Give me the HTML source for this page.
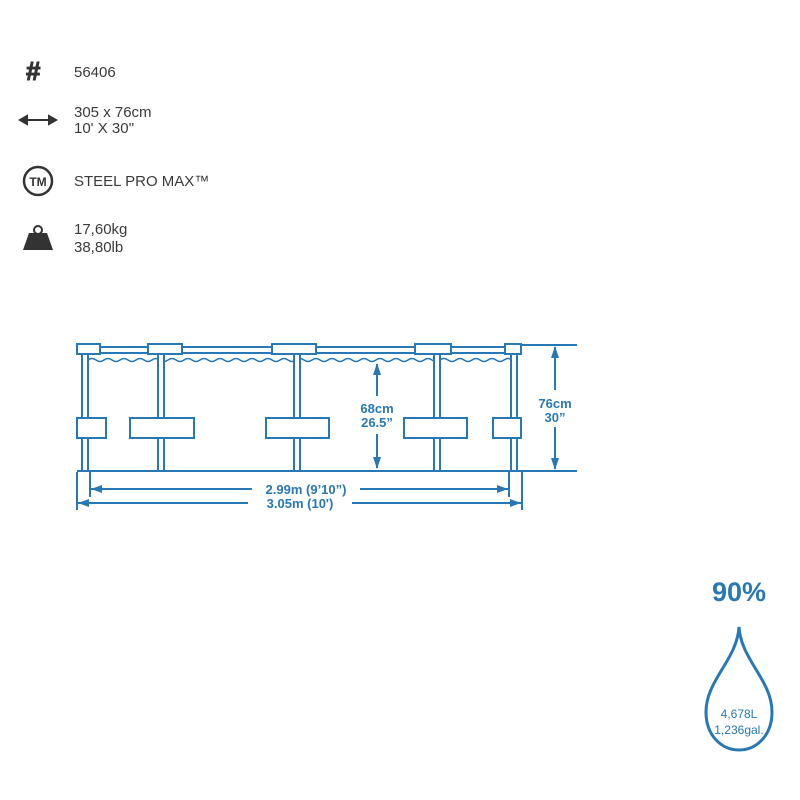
<!DOCTYPE html>
<html><head><meta charset="utf-8"><style>
html,body{margin:0;padding:0;background:#fff;}
svg{display:block;}
.t{font-family:"Liberation Sans",sans-serif;fill:#3a3a3a;font-size:15px;}
.b{font-family:"Liberation Sans",sans-serif;fill:#2778b4;font-weight:bold;font-size:13px;text-anchor:middle;}
</style></head><body>
<svg width="800" height="800" viewBox="0 0 800 800" xmlns="http://www.w3.org/2000/svg">
<text x="26" y="80" style="font-family:'Liberation Sans',sans-serif;font-weight:bold;font-size:26px;fill:#333" stroke="#333" stroke-width="1">#</text>
<text class="t" x="74" y="77">56406</text>
<g stroke="#333" stroke-width="2" fill="#333">
<line x1="22" y1="120" x2="54" y2="120"/>
<polygon points="20,120 27,116 27,124"/>
<polygon points="56,120 49,116 49,124"/>
</g>
<text class="t" x="74" y="117">305 x 76cm</text>
<text class="t" x="74" y="133">10' X 30''</text>
<circle cx="38" cy="181" r="14" fill="none" stroke="#333" stroke-width="2.5"/>
<text x="38" y="186" style="font-family:'Liberation Sans',sans-serif;font-weight:bold;font-size:12px;fill:#333;text-anchor:middle">TM</text>
<text class="t" x="74" y="186">STEEL PRO MAX™</text>
<circle cx="38" cy="230" r="4" fill="none" stroke="#333" stroke-width="2"/>
<polygon points="29,233 47,233 53,250 23,250" fill="#333"/>
<text class="t" x="74" y="234">17,60kg</text>
<text class="t" x="74" y="252">38,80lb</text>

<g stroke="#2778b4" stroke-width="2" fill="none">
<line x1="77" y1="347" x2="521" y2="347"/>
<line x1="77" y1="353" x2="521" y2="353"/>
<line x1="521" y1="345" x2="577" y2="345"/>
<rect x="77" y="344" width="23" height="10" fill="#fff"/>
<rect x="148" y="344" width="34" height="10" fill="#fff"/>
<rect x="272" y="344" width="44" height="10" fill="#fff"/>
<rect x="415" y="344" width="36" height="10" fill="#fff"/>
<rect x="505" y="344" width="16" height="10" fill="#fff"/>
<path d="M88 360 q4 -3 8 0 t8 0 t8 0 t8 0 t8 0 t8 0 t8 0 t8 0 t8 0 t8 0 t8 0 t8 0 t8 0 t8 0 t8 0 t8 0 t8 0 t8 0 t8 0 t8 0 t8 0 t8 0 t8 0 t8 0 t8 0 t8 0 t8 0 t8 0 t8 0 t8 0 t8 0 t8 0 t8 0 t8 0 t8 0 t8 0 t8 0 t8 0 t8 0 t8 0 t8 0 t8 0 t8 0 t8 0 t8 0 t8 0 t8 0 t8 0 t8 0 t8 0 t8 0 t8 0 t8 0" stroke-width="1.5"/>
<g fill="#fff">
<rect x="82" y="354" width="6" height="117"/>
<rect x="158" y="354" width="6" height="117"/>
<rect x="294" y="354" width="6" height="117"/>
<rect x="434" y="354" width="6" height="117"/>
<rect x="511" y="354" width="6" height="117"/>
</g>
<g fill="#fff">
<rect x="77" y="418" width="29" height="20"/>
<rect x="130" y="418" width="64" height="20"/>
<rect x="266" y="418" width="63" height="20"/>
<rect x="404" y="418" width="63" height="20"/>
<rect x="493" y="418" width="28" height="20"/>
</g>
<line x1="77" y1="471" x2="577" y2="471"/>
<line x1="77" y1="472" x2="77" y2="510"/>
<line x1="90" y1="472" x2="90" y2="497"/>
<line x1="509" y1="472" x2="509" y2="497"/>
<line x1="522" y1="472" x2="522" y2="510"/>
<line x1="90" y1="489" x2="252" y2="489"/>
<line x1="360" y1="489" x2="509" y2="489"/>
<line x1="77" y1="503" x2="248" y2="503"/>
<line x1="352" y1="503" x2="522" y2="503"/>
<line x1="377" y1="364" x2="377" y2="396"/>
<line x1="377" y1="434" x2="377" y2="468"/>
<line x1="555" y1="347" x2="555" y2="390"/>
<line x1="555" y1="427" x2="555" y2="469"/>
</g>
<g fill="#2778b4">
<polygon points="91,489 102,485 102,493"/>
<polygon points="508,489 497,485 497,493"/>
<polygon points="78,503 89,499 89,507"/>
<polygon points="521,503 510,499 510,507"/>
<polygon points="377,363 373,375 381,375"/>
<polygon points="377,469 373,457 381,457"/>
<polygon points="555,346 551,358 559,358"/>
<polygon points="555,470 551,458 559,458"/>
</g>
<text class="b" x="306" y="494">2.99m (9’10”)</text>
<text class="b" x="300" y="508">3.05m (10')</text>
<text class="b" x="377" y="413">68cm</text>
<text class="b" x="377" y="427">26.5”</text>
<text class="b" x="555" y="408">76cm</text>
<text class="b" x="555" y="422">30”</text>

<text x="739" y="601" style="font-family:'Liberation Sans',sans-serif;font-weight:bold;font-size:27px;fill:#2778b4;text-anchor:middle">90%</text>
<path d="M739 627 C737 660 706 680 706 712 C706 736 722 750 739 750 C756 750 772 736 772 712 C772 680 741 660 739 627 Z" fill="none" stroke="#2778b4" stroke-width="3"/>
<text x="739" y="718" style="font-family:'Liberation Sans',sans-serif;font-size:12px;fill:#2778b4;text-anchor:middle">4,678L</text>
<text x="739" y="734" style="font-family:'Liberation Sans',sans-serif;font-size:12px;fill:#2778b4;text-anchor:middle">1,236gal.</text>
</svg>
</body></html>
